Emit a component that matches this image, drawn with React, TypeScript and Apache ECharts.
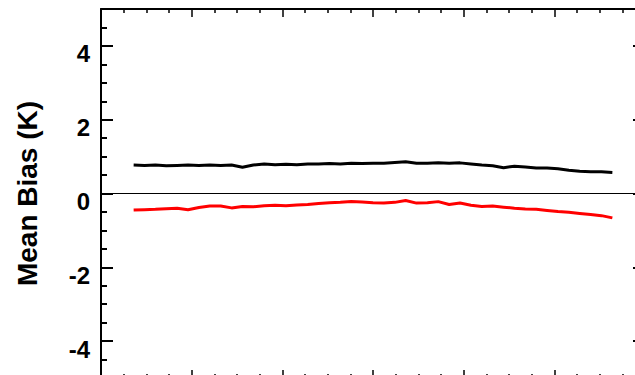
import React, { useEffect, useRef } from "react";
import * as echarts from "echarts";

const xValues = [
  3.6, 4.8, 6.0, 7.2, 8.4, 9.6, 10.8, 12.0, 13.2, 14.4, 15.6, 16.8, 18.0, 19.2, 20.4,
  21.6, 22.8, 24.0, 25.2, 26.4, 27.6, 28.8, 30.0, 31.2, 32.4, 33.6, 34.8, 36.0, 37.2,
  38.4, 39.6, 40.8, 42.0, 43.2, 44.4, 45.6, 46.8, 48.0, 49.2, 50.4, 51.6, 52.8, 54.0,
  55.2, 56.4,
];

const blackBias = [
  0.77, 0.76, 0.77, 0.75, 0.76, 0.77, 0.76, 0.77, 0.76, 0.77, 0.71, 0.77, 0.8, 0.78, 0.79,
  0.78, 0.8, 0.8, 0.81, 0.8, 0.82, 0.81, 0.82, 0.82, 0.84, 0.86, 0.82, 0.82, 0.83,
  0.82, 0.83, 0.8, 0.77, 0.75, 0.7, 0.74, 0.72, 0.69, 0.69, 0.67, 0.63, 0.6, 0.59,
  0.59, 0.57,
];

const redBias = [
  -0.45, -0.44, -0.43, -0.41, -0.4, -0.44, -0.38, -0.34, -0.34, -0.39, -0.35, -0.36, -0.33,
  -0.32, -0.33, -0.31, -0.3, -0.27, -0.25, -0.24, -0.22, -0.23, -0.25, -0.26, -0.24, -0.19,
  -0.26, -0.25, -0.22, -0.3, -0.26, -0.32, -0.35, -0.34, -0.37, -0.4, -0.42, -0.43, -0.46,
  -0.49, -0.51, -0.54, -0.57, -0.6, -0.66,
];

const yTickLabels = [-4, -2, 0, 2, 4];
const yAxisName = "Mean Bias (K)";

export default function App() {
  const ref = useRef<HTMLDivElement>(null);

  useEffect(() => {
    document.body.style.margin = "0";
    if (!ref.current) return;
    const chart = echarts.init(ref.current, undefined, { renderer: "svg" });
    const font = "'Liberation Sans', Arial, Helvetica, sans-serif";

    const xBase = {
      type: "value" as const,
      min: 0,
      max: 60,
      interval: 10,
      axisLine: { show: true, onZero: false, lineStyle: { color: "#000", width: 2 } },
      axisTick: { show: true, inside: true, length: 8, lineStyle: { color: "#000", width: 1.5 } },
      minorTick: { show: true, splitNumber: 4, length: 4, lineStyle: { color: "#000", width: 1.5 } },
      axisLabel: { show: false },
      splitLine: { show: false },
      minorSplitLine: { show: false },
    };

    const toPairs = (ys: number[]) => ys.map((y, i) => [xValues[i], y]);

    chart.setOption({
      animation: false,
      backgroundColor: "#fff",
      grid: {
        left: 101,
        top: 9,
        width: 544,
        height: 369,
        containLabel: false,
        outerBoundsMode: "none",
      },
      xAxis: [
        { ...xBase, position: "bottom" },
        { ...xBase, position: "top" },
      ],
      yAxis: [
        {
          type: "value",
          min: -5,
          max: 5,
          position: "left",
          name: yAxisName,
          nameLocation: "middle",
          nameGap: 60,
          nameRotate: 90,
          nameTextStyle: { fontFamily: font, fontWeight: "bold", fontSize: 28, color: "#000" },
          axisLine: { show: true, onZero: false, lineStyle: { color: "#000", width: 2 } },
          axisTick: {
            show: true,
            inside: true,
            length: 12,
            customValues: yTickLabels,
            lineStyle: { color: "#000", width: 2 },
          },
          axisLabel: {
            show: true,
            customValues: yTickLabels,
            margin: 11,
            verticalAlign: "top",
            lineHeight: 16,
            fontFamily: font,
            fontWeight: "bold",
            fontSize: 24,
            color: "#000",
          },
          splitLine: { show: false },
        },
        {
          type: "value",
          min: -5,
          max: 5,
          interval: 0.5,
          position: "left",
          axisLine: { show: false },
          axisTick: { show: true, inside: true, length: 6, lineStyle: { color: "#000", width: 2 } },
          axisLabel: { show: false },
          splitLine: { show: false },
        },
        {
          type: "value",
          min: -5,
          max: 5,
          position: "right",
          axisLine: { show: true, onZero: false, lineStyle: { color: "#000", width: 2 } },
          axisTick: {
            show: true,
            inside: true,
            length: 12,
            customValues: yTickLabels,
            lineStyle: { color: "#000", width: 2 },
          },
          axisLabel: { show: false },
          splitLine: { show: false },
        },
      ],
      series: [
        {
          type: "line",
          data: toPairs(blackBias),
          showSymbol: false,
          symbol: "none",
          lineStyle: { color: "#000", width: 3 },
          markLine: {
            silent: true,
            symbol: "none",
            label: { show: false },
            lineStyle: { color: "#000", width: 1, type: "solid" },
            data: [{ yAxis: 0 }],
          },
        },
        {
          type: "line",
          data: toPairs(redBias),
          showSymbol: false,
          symbol: "none",
          lineStyle: { color: "#ff0000", width: 3 },
        },
      ],
    });

    return () => chart.dispose();
  }, []);

  return <div ref={ref} style={{ width: 635, height: 375 }} />;
}
